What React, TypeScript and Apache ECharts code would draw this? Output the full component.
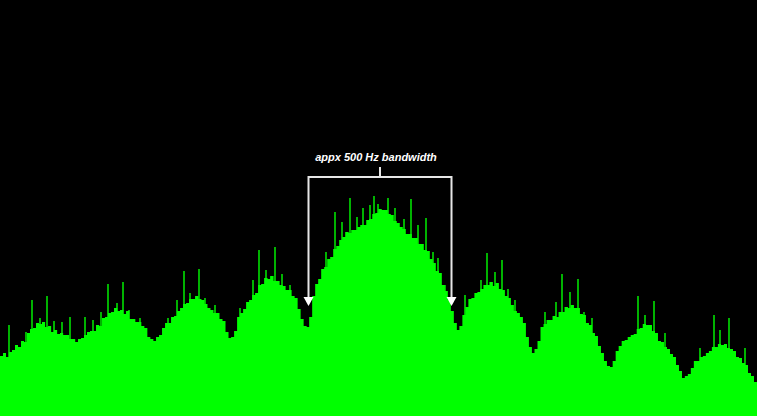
import React, { useEffect, useRef } from "react";
import * as echarts from "echarts";

// Spectrum body level per frequency bin (252 bins across the span)
const bodyLevels: number[] = [
  60, 63, 59, 64, 66, 71, 69, 75, 74, 83,
  87, 88, 93, 92, 94, 89, 90, 84, 86, 82,
  83, 81, 81, 77, 77, 74, 77, 78, 81, 84,
  85, 85, 91, 90, 98, 99, 103, 104, 108, 105,
  106, 102, 105, 97, 97, 94, 94, 90, 88, 79,
  77, 75, 79, 81, 88, 93, 93, 99, 100, 105,
  108, 112, 113, 117, 117, 120, 117, 116, 112, 108,
  106, 103, 103, 97, 95, 84, 78, 79, 85, 99,
  103, 107, 114, 116, 121, 123, 131, 132, 138, 137,
  140, 135, 135, 131, 130, 126, 126, 120, 118, 107,
  97, 90, 89, 99, 120, 132, 137, 147, 149, 157,
  159, 167, 170, 176, 179, 184, 183, 186, 186, 189,
  191, 191, 196, 197, 202, 203, 207, 206, 206, 202,
  201, 195, 193, 189, 187, 182, 182, 178, 178, 172,
  172, 166, 165, 157, 153, 145, 143, 131, 125, 116,
  105, 93, 86, 90, 101, 109, 117, 118, 123, 124,
  127, 131, 131, 134, 130, 133, 127, 126, 120, 118,
  111, 105, 103, 99, 93, 79, 69, 63, 67, 75,
  89, 92, 96, 96, 100, 99, 104, 104, 109, 108,
  111, 108, 108, 102, 101, 93, 91, 83, 80, 70,
  63, 55, 50, 49, 55, 65, 70, 75, 76, 79,
  81, 82, 87, 88, 92, 91, 91, 85, 83, 75,
  74, 69, 67, 62, 59, 51, 45, 38, 40, 42,
  48, 55, 55, 59, 60, 63, 65, 69, 69, 72,
  71, 72, 68, 67, 65, 59, 58, 53, 51, 43, 40, 34,
];

// Narrow spikes: frequency position and level
const spikeFreqs: number[] = [
  9, 26, 32, 40, 47, 54, 62, 70, 85, 93, 101, 108, 117, 123, 129, 140, 168, 177, 184, 190,
  199, 205, 215, 240, 253, 259, 266, 275, 282, 290, 326, 335, 342, 350, 357, 363, 370, 374, 378, 388,
  395, 404, 411, 418, 426, 433, 438, 445, 465, 481, 487, 495, 502, 508, 515, 545, 556, 562, 570, 578,
  584, 592, 638, 645, 654, 665, 700, 714, 720, 729, 745,
];
const spikeLevels: number[] = [
  91, 84, 116, 98, 120, 95, 94, 99, 99, 96, 104, 132, 113, 134, 106, 98, 98, 116, 145, 123,
  147, 118, 111, 108, 136, 166, 146, 169, 142, 131, 164, 204, 194, 218, 199, 208, 211, 220, 212, 218,
  208, 197, 217, 191, 198, 164, 158, 131, 121, 136, 163, 144, 156, 127, 116, 104, 114, 142, 124, 137,
  104, 98, 120, 101, 115, 83, 68, 101, 86, 98, 68,
];

const annotationText = "appx 500 Hz bandwidth";

export default function App() {
  const ref = useRef<HTMLDivElement>(null);
  useEffect(() => {
    if (!ref.current) return;
    const chart = echarts.init(ref.current, null, { renderer: "svg" });
    const cats = bodyLevels.map((_, i) => String(i));
    const lineStyle = { stroke: "#e6e6e6", lineWidth: 2, fill: "none" };
    chart.setOption({
      animation: false,
      backgroundColor: "#000000",
      grid: { left: 0, right: 0, top: 0, bottom: 0 },
      xAxis: [
        { type: "category", data: cats, show: false, boundaryGap: true },
        { type: "value", min: 0, max: 757, show: false },
      ],
      yAxis: { type: "value", min: 0, max: 416, show: false },
      series: [
        {
          type: "bar",
          xAxisIndex: 1,
          data: spikeFreqs.map((f, i) => [f, spikeLevels[i]]),
          barWidth: 1.6,
          itemStyle: { color: "#00e000" },
          z: 1,
        },
        {
          type: "line",
          xAxisIndex: 0,
          data: bodyLevels,
          step: "middle",
          symbol: "none",
          lineStyle: { width: 0, color: "#00ff00" },
          areaStyle: { color: "#00ff00", opacity: 1 },
          z: 2,
        },
        {
          type: "bar",
          xAxisIndex: 0,
          data: bodyLevels,
          barCategoryGap: 0,
          barWidth: "100%",
          itemStyle: { color: "#00ff00" },
          z: 3,
        },
      ],
      graphic: [
        {
          type: "text",
          x: 376,
          y: 157,
          z: 10,
          style: {
            text: annotationText,
            fill: "#ffffff",
            font: "italic bold 11px 'Liberation Sans', Arial, sans-serif",
            textAlign: "center",
            textVerticalAlign: "middle",
          },
        },
        {
          type: "line",
          z: 10,
          shape: { x1: 380, y1: 167, x2: 380, y2: 177 },
          style: lineStyle,
        },
        {
          type: "polyline",
          z: 10,
          shape: { points: [[308.5, 298], [308.5, 177], [451.5, 177], [451.5, 298]] },
          style: lineStyle,
        },
        {
          type: "polygon",
          z: 10,
          shape: { points: [[303.5, 297], [313.5, 297], [308.5, 306]] },
          style: { fill: "#ffffff" },
        },
        {
          type: "polygon",
          z: 10,
          shape: { points: [[446.5, 297], [456.5, 297], [451.5, 306]] },
          style: { fill: "#ffffff" },
        },
      ],
    });
    return () => chart.dispose();
  }, []);
  return (
    <div
      ref={ref}
      style={{ position: "fixed", left: 0, top: 0, width: 757, height: 416, background: "#000" }}
    />
  );
}
